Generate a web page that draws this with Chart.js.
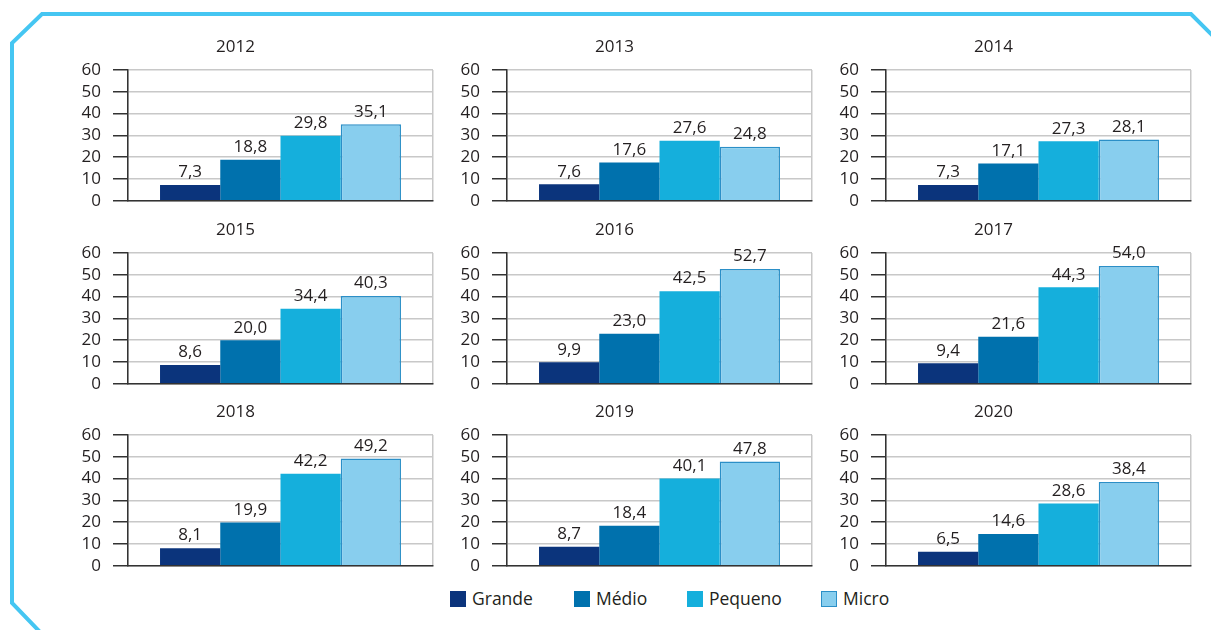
<!DOCTYPE html>
<html>
<head>
<meta charset="utf-8">
<script src="https://cdn.jsdelivr.net/npm/chart.js@4"></script>
<style>
  body { margin: 0; background: #fff; width: 1211px; height: 630px; overflow: hidden; position: relative; font-family: "Open Sans", sans-serif; }
  canvas.panel { position: absolute; }
  #frame { position: absolute; left: 0; top: 0; }
  .leg { position: absolute; top: 589px; font-size: 17.5px; color: #231f20; line-height: 18px; }
  .leg span { display: inline-block; width: 16px; height: 16px; vertical-align: -2px; margin-right: 6px; box-sizing: border-box; }
</style>
</head>
<body>
<svg id="frame" width="1211" height="630">
  <polyline points="40,632 12,603 12,43 42,14 1191,14 1213,36" fill="none" stroke="#45c6f2" stroke-width="4"/>
</svg>

<div class="leg" style="left:450px"><span style="background:#0b347c"></span>Grande</div>
<div class="leg" style="left:574px"><span style="background:#0071ad"></span>Médio</div>
<div class="leg" style="left:687px"><span style="background:#15afdc"></span>Pequeno</div>
<div class="leg" style="left:821px"><span style="background:#88ceee;border:1.5px solid #2b8fc7"></span>Micro</div>

<script>
// values per year, one array per company size
let years = ['2012', '2013', '2014', '2015', '2016', '2017', '2018', '2019', '2020'];
let sizes = ['Grande', 'Médio', 'Pequeno', 'Micro'];
let grande  = [7.3, 7.6, 7.3, 8.6, 9.9, 9.4, 8.1, 8.7, 6.5];
let medio   = [18.8, 17.6, 17.1, 20.0, 23.0, 21.6, 19.9, 18.4, 14.6];
let pequeno = [29.8, 27.6, 27.3, 34.4, 42.5, 44.3, 42.2, 40.1, 28.6];
let micro   = [35.1, 24.8, 28.1, 40.3, 52.7, 54.0, 49.2, 47.8, 38.4];
let yTicks = [0, 10, 20, 30, 40, 50, 60];

let fills = ['#0b347c', '#0071ad', '#15afdc', '#88ceee'];
let borders = ['#0b347c', '#0071ad', '#15afdc', '#2b8fc7'];
let series = [grande, medio, pequeno, micro];
let textColor = '#231f20';

// draws the value above each bar
let valueLabels = {
    id: 'valueLabels',
    afterDatasetsDraw(chart) {
        let ctx = chart.ctx;
        ctx.save();
        ctx.font = '17px "Open Sans"';
        ctx.fillStyle = textColor;
        ctx.textAlign = 'center';
        ctx.textBaseline = 'bottom';
        chart.data.datasets.forEach((ds, i) => {
            chart.getDatasetMeta(i).data.forEach((bar, j) => {
                let v = ds.data[j].toFixed(1).replace('.', ',');
                ctx.fillText(v, bar.x, bar.y - 4);
            });
        });
        ctx.restore();
    }
};

years.forEach((year, k) => {
    let col = k % 3, row = Math.floor(k / 3);
    let cv = document.createElement('canvas');
    cv.className = 'panel';
    let left = 38 + col * 379, top = 34 + row * 182.5;
    cv.style.left = left + 'px';
    cv.style.top = top + 'px';
    cv.style.width = '400px';
    cv.style.height = '189px';
    cv.width = 400; cv.height = 189;
    document.body.appendChild(cv);

    new Chart(cv.getContext('2d'), {
        type: 'bar',
        data: {
            labels: [''],
            datasets: sizes.map((s, i) => ({
                label: s,
                data: [series[i][k]],
                backgroundColor: fills[i],
                borderColor: borders[i],
                borderWidth: i === 3 ? 1.5 : 0,
                barPercentage: 1,
                categoryPercentage: 0.79
            }))
        },
        options: {
            responsive: false,
            animation: false,
            layout: { padding: { left: 0, right: 5, top: 0, bottom: 4 } },
            plugins: {
                legend: { display: false },
                tooltip: { enabled: false },
                title: {
                    display: true,
                    text: year,
                    color: textColor,
                    font: { family: 'Open Sans', size: 17, weight: 'normal' },
                    padding: { top: 3, bottom: 12.6 }
                }
            },
            scales: {
                x: {
                    ticks: { display: false },
                    grid: { color: '#c8c8c8', drawTicks: false, lineWidth: 1.5 },
                    border: { color: '#333', width: 1.5 }
                },
                y: {
                    min: 0,
                    max: 60,
                    afterBuildTicks: s => { s.ticks = yTicks.map(v => ({ value: v })); },
                    afterFit: s => { s.width = 90; },
                    ticks: {
                        color: textColor,
                        font: { family: 'Open Sans', size: 17 },
                        padding: 12,
                        autoSkip: false
                    },
                    grid: { color: '#c8c8c8', tickColor: '#333', tickLength: 15, lineWidth: 1.5 },
                    border: { color: '#333', width: 1.5 }
                }
            }
        },
        plugins: [valueLabels]
    });
});
</script>
</body>
</html>
